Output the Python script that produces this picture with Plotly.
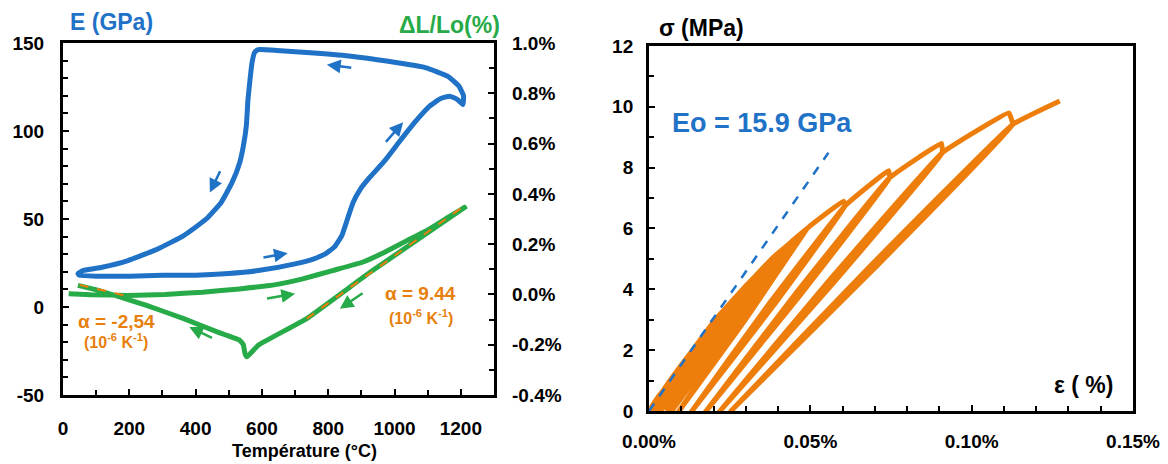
import plotly.graph_objects as go

# ---------------- Left panel data ----------------
# Young's modulus E (GPa) vs temperature (°C): heating branch then cooling branch
E_temp = [50, 100, 200, 300, 400, 500, 589, 700, 757, 790, 818, 841, 858, 875, 897, 925,
          970, 1015, 1060, 1105, 1138, 1166, 1189, 1206,
          1208, 1194, 1161, 1093, 981, 869, 757, 645, 589, 578, 570, 564, 558, 553, 544,
          533, 510, 477, 432, 364, 286, 196, 118, 62, 45, 50]
E_val = [18, 17.5, 17.5, 18, 18, 19, 20.7, 24.5, 27.4, 30, 34, 40.6, 50, 59.4, 67, 73.6,
         83, 94, 104.7, 114, 118.3, 119.8, 118, 115,
         120, 125.5, 131, 136, 139.6, 142.5, 144.3, 145.8, 146.2, 144.7, 138.7, 129, 118, 103, 91.5,
         82, 70.8, 59.4, 50, 40.6, 33, 26.4, 22.6, 20.8, 19, 18]

# Dilatation dL/Lo (%) vs temperature (°C)
dL_temp = [17, 84, 196, 308, 421, 533, 645, 723, 813, 903, 970, 1037, 1105, 1161, 1211,
           925, 735, 589, 555, 549, 544, 533, 465, 364, 252, 174, 107, 45]
dL_val = [0.003, -0.001, -0.004, 0.0, 0.009, 0.022, 0.04, 0.062, 0.095, 0.128, 0.168, 0.214, 0.26, 0.306, 0.346,
          0.087, -0.096, -0.202, -0.248, -0.235, -0.2, -0.182, -0.149, -0.096, -0.044, -0.011, 0.016, 0.036]

# linear fits (orange dashed)
fit_hi_temp = [735, 1211]
fit_hi_val = [-0.096, 0.353]
fit_lo_temp = [50, 185]
fit_lo_val = [0.038, -0.004]

# ---------------- Right panel data ----------------
# cyclic loading: peak, notch (start of unloading), mid-unloading, residual and mid-reloading points
peak_strain = [0.0068, 0.0135, 0.0205, 0.0290, 0.0335, 0.0380, 0.0435, 0.0490,
               0.0603, 0.0742, 0.0906, 0.1115, 0.1273]
peak_stress = [1.0, 2.0, 3.0, 4.0, 4.5, 5.0, 5.5, 6.0, 6.9, 7.9, 8.8, 9.8, 10.19]
notch_strain = [0.0068, 0.0135, 0.0205, 0.0290, 0.0335, 0.0380, 0.0435, 0.0490,
                0.0608, 0.0746, 0.0909, 0.1127]
notch_stress = [1.0, 2.0, 3.0, 4.0, 4.5, 5.0, 5.5, 6.0, 6.75, 7.67, 8.49, 9.42]
unload_mid_strain = [0.0037, 0.00725, 0.01105, 0.0161, 0.0191, 0.02225, 0.02595, 0.02985,
                     0.03795, 0.04705, 0.05745, 0.07005]
unload_mid_stress = [0.5, 1.0, 1.5, 2.0, 2.25, 2.5, 2.75, 3.0, 3.375, 3.835, 4.245, 4.71]
residual_strain = [0.0, 0.0002, 0.0006, 0.0020, 0.0035, 0.0053, 0.0070, 0.0093,
                   0.0133, 0.0177, 0.0220, 0.0254]
reload_mid_strain = [0.0031, 0.00645, 0.01005, 0.0149, 0.0179, 0.02105, 0.02455, 0.02845,
                     0.03615, 0.04525, 0.05545, 0.06805]
reload_mid_stress = [0.5, 1.0, 1.5, 2.0, 2.25, 2.5, 2.75, 3.0, 3.375, 3.835, 4.245, 4.71]

eo_strain = [0.0, 0.0556]
eo_stress = [0.0, 8.49]

# tick labels
left_x_ticks = [0, 200, 400, 600, 800, 1000, 1200]
left_y_ticks = [-50, 0, 50, 100, 150]
left_y_text = ["-50", "0", "50", "100", "150"]
left_y2_ticks = [-0.4, -0.2, 0.0, 0.2, 0.4, 0.6, 0.8, 1.0]
left_y2_text = ["-0.4%", "-0.2%", "0.0%", "0.2%", "0.4%", "0.6%", "0.8%", "1.0%"]
right_x_ticks = [0.0, 0.05, 0.10, 0.15]
right_x_text = ["0.00%", "0.05%", "0.10%", "0.15%"]
right_y_ticks = [0, 2, 4, 6, 8, 10, 12]

BLUE = "#1F72C6"
GREEN = "#27AA48"
ORANGE = "#EE7E0C"
ORANGE_TXT = "#E8800E"
FONT = "Liberation Sans, Arial, sans-serif"

# assemble the cyclic path from the read vertices
path_x, path_y = [0.0], [0.0]
n = len(peak_strain)
for i in range(n):
    if i > 0:
        path_x.append(reload_mid_strain[i - 1]); path_y.append(reload_mid_stress[i - 1])
        path_x.append(notch_strain[i - 1]); path_y.append(notch_stress[i - 1])
    path_x.append(peak_strain[i]); path_y.append(peak_stress[i])
    if i < n - 1:
        path_x.append(notch_strain[i]); path_y.append(notch_stress[i])
        path_x.append(unload_mid_strain[i]); path_y.append(unload_mid_stress[i])
        path_x.append(residual_strain[i]); path_y.append(0.0)

fig = go.Figure()
fig.add_trace(go.Scatter(x=E_temp, y=E_val, xaxis="x", yaxis="y", mode="lines",
                         line=dict(color=BLUE, width=5, shape="spline", smoothing=0.4)))
fig.add_trace(go.Scatter(x=dL_temp, y=dL_val, xaxis="x", yaxis="y2", mode="lines",
                         line=dict(color=GREEN, width=5, shape="spline", smoothing=0.3)))
fig.add_trace(go.Scatter(x=fit_hi_temp, y=fit_hi_val, xaxis="x", yaxis="y2", mode="lines",
                         line=dict(color=ORANGE, width=2, dash="dash")))
fig.add_trace(go.Scatter(x=fit_lo_temp, y=fit_lo_val, xaxis="x", yaxis="y2", mode="lines",
                         line=dict(color=ORANGE, width=2, dash="dash")))
fig.add_trace(go.Scatter(x=path_x, y=path_y, xaxis="x2", yaxis="y3", mode="lines",
                         line=dict(color=ORANGE, width=5, shape="spline", smoothing=0.25)))
fig.add_trace(go.Scatter(x=eo_strain, y=eo_stress, xaxis="x2", yaxis="y3", mode="lines",
                         line=dict(color=BLUE, width=2.5, dash="dash")))

tickfont = dict(family=FONT, size=19, color="black", weight="bold")
minor_t = dict(ticks="inside", ticklen=5, tickwidth=2, tickcolor="black")
common = dict(showline=True, linecolor="black", linewidth=3, mirror=True, ticks="inside",
              ticklen=6, tickwidth=2, tickcolor="black", showgrid=False, zeroline=False,
              tickfont=tickfont, automargin=False)

# the page body adds an 8 px offset, so the figure is 8 px smaller than the window
fig.update_layout(
    width=1160, height=456, margin=dict(l=0, r=0, t=0, b=0, autoexpand=False),
    paper_bgcolor="white", plot_bgcolor="white", showlegend=False,
    xaxis=dict(domain=[0.04741, 0.41897], range=[0, 1300], tickvals=left_x_ticks, anchor="y",
               minor=dict(dtick=100, **minor_t), ticklabelstandoff=14, **common),
    yaxis=dict(domain=[0.15132, 0.92325], range=[-50, 150], tickvals=left_y_ticks, ticktext=left_y_text,
               anchor="x", ticklabelstandoff=12, minor=dict(dtick=10, **minor_t), **common),
    yaxis2=dict(overlaying="y", side="right", range=[-0.4, 1.0], tickvals=left_y2_ticks, ticktext=left_y2_text,
                anchor="x", showline=False, ticks="inside", ticklen=6, tickwidth=2, tickcolor="black",
                showgrid=False, zeroline=False, tickfont=tickfont, ticklabelstandoff=17, automargin=False,
                minor=dict(dtick=0.1, **minor_t)),
    xaxis2=dict(domain=[0.55259, 0.96983], range=[0, 0.15], tickvals=right_x_ticks, ticktext=right_x_text,
                anchor="y3", ticklabelstandoff=11, minor=dict(dtick=0.01, **minor_t), **common),
    yaxis3=dict(domain=[0.11623, 0.91667], range=[0, 12], tickvals=right_y_ticks, anchor="x2",
                ticklabelstandoff=9, minor=dict(dtick=1, **minor_t), **common),
)

def txt(x, y, s, color, size, xanchor="center", yanchor="middle"):
    fig.add_annotation(x=x, y=y, xref="paper", yref="paper", text="<b>" + s + "</b>", showarrow=False,
                       xanchor=xanchor, yanchor=yanchor, font=dict(family=FONT, size=size, color=color))

txt(0.05172, 0.9693, "E (GPa)", BLUE, 23, xanchor="left")
txt(0.42586, 0.96272, "ΔL/Lo(%)", GREEN, 23, xanchor="right")
txt(0.55948, 0.95614, "σ (MPa)", "black", 23, xanchor="left")
txt(0.95431, 0.17325, "ε ( %)", "black", 23, xanchor="right")
txt(0.57069, 0.74781, "Eo = 15.9 GPa", BLUE, 27, xanchor="left")
txt(0.25603, 0.02851, "Température (°C)", "black", 18)

# alpha annotations (data coordinates)
def dtxt(x, y, s, size):
    fig.add_annotation(x=x, y=y, xref="x", yref="y", text="<b>" + s + "</b>", showarrow=False,
                       font=dict(family=FONT, size=size, color=ORANGE_TXT))

dtxt(160, -8.5, "α = -2,54", 19)
dtxt(160, -19.3, "(10<sup>-6</sup> K<sup>-1</sup>)", 16)
dtxt(1079, 7.9, "α = 9.44", 19)
dtxt(1079, -5.7, "(10<sup>-6</sup> K<sup>-1</sup>)", 16)

# arrows
def arrow(x0, y0, x1, y1, color, yref):
    fig.add_annotation(x=x1, y=y1, ax=x0, ay=y0, xref="x", yref=yref, axref="x", ayref=yref,
                       text="", showarrow=True, arrowhead=2, arrowsize=1.1, arrowwidth=2.5, arrowcolor=color)

arrow(874, 135.8, 796, 137.7, BLUE, "y")
arrow(970, 93, 1026, 105, BLUE, "y")
arrow(600, 28, 678, 30.6, BLUE, "y")
arrow(476, 78, 443, 65, BLUE, "y")
arrow(611, -0.017, 700, 0.003, GREEN, "y2")
arrow(454, -0.176, 381, -0.13, GREEN, "y2")
arrow(908, 0.009, 835, -0.057, GREEN, "y2")

fig.write_html("out.html")
